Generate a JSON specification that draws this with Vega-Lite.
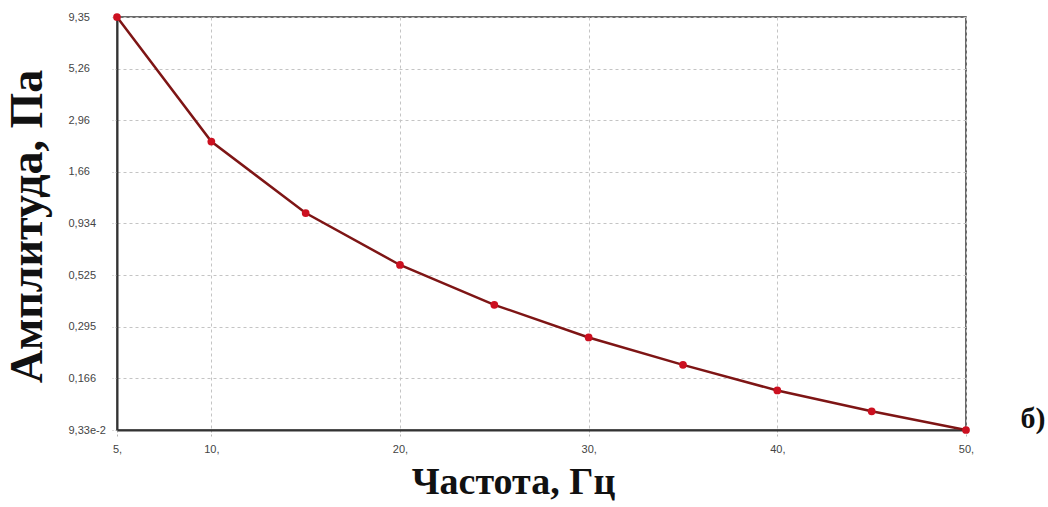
{
  "$schema": "https://vega.github.io/schema/vega-lite/v6.json",
  "width": 849,
  "height": 413,
  "autosize": "none",
  "padding": {"left": 117, "top": 17, "right": 82, "bottom": 77},
  "background": "white",
  "config": {
    "view": {"stroke": "#3a3a3a", "strokeWidth": 1.5},
    "axis": {
      "labelFont": "Liberation Sans",
      "labelFontSize": 11,
      "labelColor": "#444",
      "labelFlush": false,
      "labelOverlap": false,
      "grid": true,
      "gridDash": [3, 3],
      "gridColor": "#c4c4c4",
      "gridWidth": 1,
      "domainColor": "#333",
      "domainWidth": 2,
      "tickColor": "#b8b8b8",
      "tickDash": [2, 2],
      "titleFont": "Liberation Serif",
      "titleFontWeight": "bold",
      "titleColor": "#111",
      "titleBaseline": "alphabetic"
    }
  },
  "datasets": {
    "amp": [
      {"f": 5, "a": 9.35},
      {"f": 10, "a": 2.33},
      {"f": 15, "a": 1.05},
      {"f": 20, "a": 0.588},
      {"f": 25, "a": 0.377},
      {"f": 30, "a": 0.262},
      {"f": 35, "a": 0.193},
      {"f": 40, "a": 0.145},
      {"f": 45, "a": 0.115},
      {"f": 50, "a": 0.0933}
    ],
    "note": [
      {"f": 50, "a": 0.0933, "t": "б)"}
    ]
  },
  "data": {"name": "amp"},
  "encoding": {
    "x": {
      "field": "f",
      "type": "quantitative",
      "scale": {"domain": [5, 50], "nice": false, "zero": false},
      "axis": {
        "values": [5, 10, 20, 30, 40, 50],
        "labelExpr": "datum.value + ','",
        "tickSize": 8,
        "labelPadding": 5,
        "title": "Частота, Гц",
        "titleFontSize": 38,
        "titleX": 396,
        "titleY": 63,
        "titleAlign": "center"
      }
    },
    "y": {
      "field": "a",
      "type": "quantitative",
      "scale": {"type": "log", "domain": [0.0933, 9.35], "nice": false},
      "axis": {
        "values": [0.0933, 0.166, 0.295, 0.525, 0.934, 1.66, 2.96, 5.26, 9.35],
        "labelExpr": "datum.value < 0.1 ? '9,33e-2' : replace(toString(datum.value), '.', ',')",
        "labelAlign": "left",
        "labelBaseline": "middle",
        "tickSize": 5,
        "labelPadding": 44,
        "title": "Амплитуда, Па",
        "titleFontSize": 46,
        "titleAngle": -90,
        "titleX": -76,
        "titleY": 209,
        "titleAlign": "center"
      }
    }
  },
  "layer": [
    {
      "mark": {"type": "line", "color": "#7e1515", "strokeWidth": 2.5}
    },
    {
      "mark": {"type": "point", "filled": true, "shape": "circle", "color": "#cc1020", "size": 60, "opacity": 1}
    },
    {
      "data": {"name": "note"},
      "mark": {"type": "text", "clip": false, "font": "Liberation Serif", "fontWeight": "bold", "fontSize": 30, "color": "#111", "align": "center", "baseline": "alphabetic", "dx": 67, "dy": -2},
      "encoding": {
        "text": {"field": "t", "type": "nominal"}
      }
    }
  ]
}
